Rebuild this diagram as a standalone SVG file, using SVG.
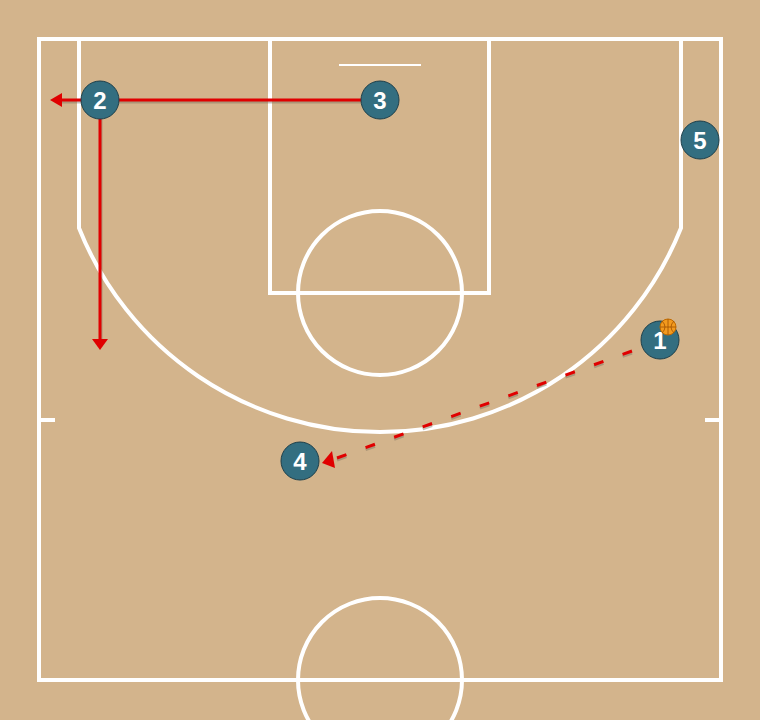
<svg xmlns="http://www.w3.org/2000/svg" width="760" height="720" viewBox="0 0 760 720">
<defs>
<style>
.court{fill:none;stroke:#fff;stroke-width:4}
.mv{fill:none;stroke:#e00000;stroke-width:3}
.pass{fill:none;stroke:#e00000;stroke-width:3;stroke-dasharray:10,20.38}
.sh{fill:none;stroke:#7a7060;stroke-width:3;opacity:0.45}
.shd{fill:none;stroke:#7a7060;stroke-width:3;opacity:0.45;stroke-dasharray:10,20.38}
.head{fill:#e00000}
.pl circle{fill:#336e80;stroke:#1d3f4a;stroke-width:1}
.pl text{fill:#fff;font-family:"Liberation Sans",Arial,sans-serif;font-weight:bold;font-size:24px;text-anchor:middle}
</style>
</defs>
<rect width="760" height="720" fill="#d3b48c"/>
<g id="court">
<rect class="court" x="39" y="39" width="682" height="641"/>
<path class="court" d="M79,39 V228 A324,324 0 0 0 681,228 V39"/>
<rect class="court" x="270" y="39" width="219" height="254"/>
<circle class="court" cx="380" cy="293" r="82"/>
<circle class="court" cx="380" cy="680" r="82"/>
<line class="court" x1="39" y1="420" x2="55" y2="420"/>
<line class="court" x1="705" y1="420" x2="721" y2="420"/>
<line x1="339" y1="65" x2="421" y2="65" stroke="#fff" stroke-width="2"/>
</g>
<g id="connectors">
<line class="sh" x1="361" y1="102" x2="62" y2="102"/>
<line class="sh" x1="101" y1="119" x2="101" y2="340"/>
<line class="shd" x1="337" y1="460" x2="632" y2="353"/>
<line class="mv" x1="361" y1="100" x2="60" y2="100"/>
<path class="head" d="M50,100 L62,93 L62,107 z"/>
<line class="mv" x1="100" y1="119" x2="100" y2="340"/>
<path class="head" d="M100,350 L92,339 L108,339 z"/>
<line class="pass" x1="337" y1="458" x2="632" y2="351"/>
<path class="head" d="M322,463 L332,451 L335,468 z"/>
</g>
<g id="p2" class="pl"><circle cx="100" cy="100" r="19"/><text x="100" y="109">2</text></g>
<g id="p3" class="pl"><circle cx="380" cy="100" r="19"/><text x="380" y="109">3</text></g>
<g id="p5" class="pl"><circle cx="700" cy="140" r="19"/><text x="700" y="149">5</text></g>
<g id="p1" class="pl"><circle cx="660" cy="340" r="19"/><text x="660" y="349">1</text></g>
<g id="p4" class="pl"><circle cx="300" cy="461" r="19"/><text x="300" y="470">4</text></g>
<g id="ball">
<circle cx="668" cy="327" r="8" fill="#f39a1e" stroke="#c06a00" stroke-width="1"/>
<path d="M660,327 H676 M668,319 V335 M662,321 Q668,327 662,333 M674,321 Q668,327 674,333" fill="none" stroke="#a05000" stroke-width="0.8"/>
</g>
</svg>
